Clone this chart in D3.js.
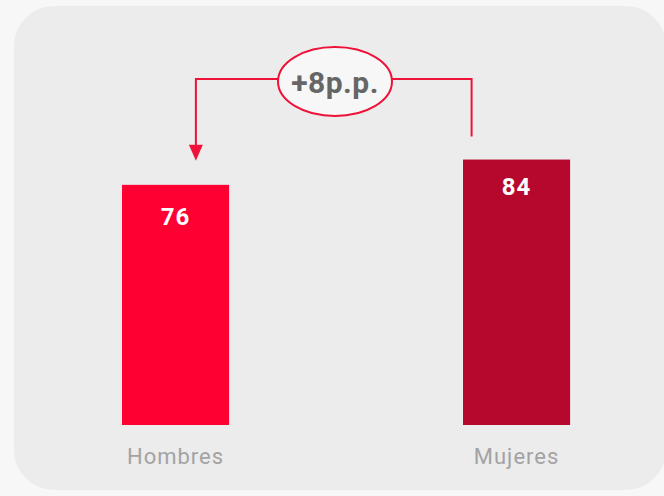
<!DOCTYPE html>
<html>
<head>
<meta charset="utf-8">
<script src="https://d3js.org/d3.v7.min.js"></script>
<style>
    body { margin: 0; background: #f7f7f7; font-family: Roboto, "Noto Sans", sans-serif; }
    svg { display: block; }
</style>
</head>
<body>
<svg id="chart" width="664" height="496"></svg>
<script>
    // data
    const categories = ["Hombres", "Mujeres"];
    const values = [76, 84];
    const colors = ["#ff0033", "#b5082c"];
    const diffLabel = "+8p.p.";

    const svg = d3.select("#chart");

    // panel background
    svg.append("rect")
        .attr("x", 14).attr("y", 6)
        .attr("width", 652).attr("height", 484)
        .attr("rx", 40).attr("ry", 40)
        .attr("fill", "#ececec");

    const x = d3.scaleBand()
        .domain(categories)
        .range([19.7, 672.4])
        .paddingInner(0.686)
        .paddingOuter(0.3);

    const y = d3.scaleLinear()
        .domain([0, 100])
        .range([425, 109]);

    // bars
    svg.selectAll(".bar")
        .data(values)
        .enter()
        .append("rect")
        .attr("class", "bar")
        .attr("x", (d, i) => x(categories[i]))
        .attr("y", d => y(d))
        .attr("width", x.bandwidth())
        .attr("height", d => y(0) - y(d))
        .attr("fill", (d, i) => colors[i]);

    // value labels
    svg.selectAll(".val")
        .data(values)
        .enter()
        .append("text")
        .attr("x", (d, i) => x(categories[i]) + x.bandwidth() / 2)
        .attr("y", (d, i) => y(d) + (i === 0 ? 40 : 35))
        .attr("text-anchor", "middle")
        .attr("fill", "#fff")
        .attr("font-weight", "bold")
        .attr("font-size", 24)
        .attr("letter-spacing", 1)
        .text(d => d);

    // category axis labels
    svg.selectAll(".cat")
        .data(categories)
        .enter()
        .append("text")
        .attr("x", d => x(d) + x.bandwidth() / 2)
        .attr("y", 464)
        .attr("text-anchor", "middle")
        .attr("fill", "#a3a3a3")
        .attr("font-size", 22)
        .attr("letter-spacing", 1)
        .text(d => d);

    // difference annotation
    const xl = x(categories[0]) + x.bandwidth() * 0.69;
    const xr = x(categories[1]) + x.bandwidth() * 0.08;
    const ya = 79;
    const red = "#ee1238";

    svg.append("path")
        .attr("d", `M${xl},${y(values[0]) - 38} V${ya} H${xr} V${y(values[1]) - 23}`)
        .attr("fill", "none")
        .attr("stroke", red)
        .attr("stroke-width", 2);

    svg.append("path")
        .attr("d", `M${xl - 7},${y(values[0]) - 40} L${xl + 7},${y(values[0]) - 40} L${xl},${y(values[0]) - 24} Z`)
        .attr("fill", red);

    svg.append("ellipse")
        .attr("cx", 335).attr("cy", 81.5)
        .attr("rx", 57).attr("ry", 34.5)
        .attr("fill", "#f7f7f7")
        .attr("stroke", red)
        .attr("stroke-width", 2);

    svg.append("text")
        .attr("x", 335).attr("y", 93)
        .attr("text-anchor", "middle")
        .attr("fill", "#666")
        .attr("font-weight", "bold")
        .attr("font-size", 30)
        .attr("letter-spacing", 0.5)
        .text(diffLabel);
</script>
</body>
</html>
